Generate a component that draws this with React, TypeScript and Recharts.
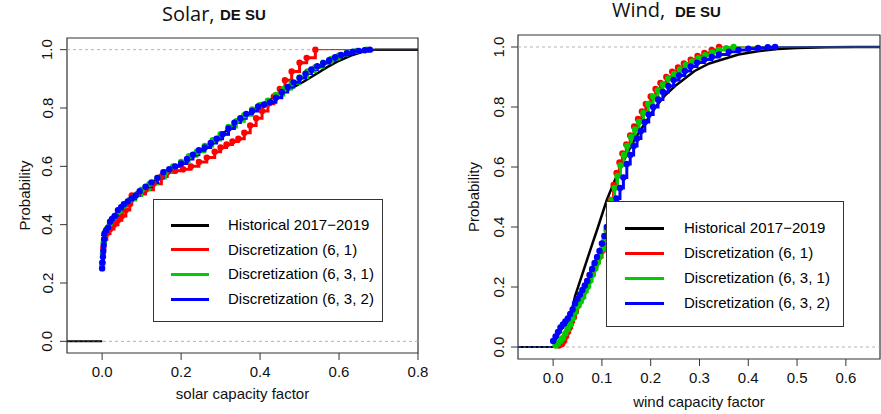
import { LineChart, Line, XAxis, YAxis, ReferenceLine, ReferenceArea, Legend } from 'recharts';

type Pt = [number, number];

const seriesNames = [
  'Historical 2017\u22122019',
  'Discretization (6, 1)',
  'Discretization (6, 3, 1)',
  'Discretization (6, 3, 2)',
];
const seriesColors = ['#000000', '#ff0000', '#00cd00', '#0000ff'];

const probTicks = [0, 0.2, 0.4, 0.6, 0.8, 1];
const solarXTicks = [0, 0.2, 0.4, 0.6, 0.8];
const windXTicks = [0, 0.1, 0.2, 0.3, 0.4, 0.5, 0.6];

// solar capacity factor vs cumulative probability
const solarHistorical: Pt[] = [
  [0, 0.36], [0.005, 0.38], [0.015, 0.4], [0.03, 0.43], [0.05, 0.465], [0.07, 0.49], [0.09, 0.51],
  [0.12, 0.54], [0.15, 0.565], [0.18, 0.59], [0.21, 0.615], [0.24, 0.645], [0.27, 0.675], [0.3, 0.705],
  [0.33, 0.74], [0.36, 0.77], [0.39, 0.8], [0.42, 0.825], [0.45, 0.848], [0.48, 0.868], [0.51, 0.89],
  [0.54, 0.915], [0.57, 0.94], [0.6, 0.962], [0.63, 0.98], [0.66, 0.993], [0.69, 1.0],
];
const solarDisc61: Pt[] = [
  [0, 0.27], [0.003, 0.32], [0.006, 0.35], [0.012, 0.37], [0.02, 0.385], [0.03, 0.4], [0.04, 0.415],
  [0.05, 0.43], [0.06, 0.45], [0.07, 0.47], [0.075, 0.5], [0.09, 0.505], [0.11, 0.52], [0.13, 0.54],
  [0.15, 0.565], [0.165, 0.58], [0.185, 0.585], [0.205, 0.59], [0.225, 0.6], [0.245, 0.615], [0.265, 0.63],
  [0.285, 0.65], [0.3, 0.665], [0.315, 0.675], [0.33, 0.685], [0.345, 0.695], [0.36, 0.715], [0.375, 0.74],
  [0.39, 0.765], [0.405, 0.79], [0.42, 0.815], [0.435, 0.84], [0.45, 0.865], [0.463, 0.895], [0.48, 0.925],
  [0.5, 0.955], [0.518, 0.972], [0.54, 1.0],
];
const solarDisc631: Pt[] = [
  [0, 0.26], [0.002, 0.3], [0.004, 0.34], [0.007, 0.37], [0.012, 0.385], [0.02, 0.405], [0.03, 0.425],
  [0.042, 0.445], [0.055, 0.465], [0.07, 0.485], [0.085, 0.5], [0.1, 0.52], [0.12, 0.54], [0.14, 0.56],
  [0.16, 0.58], [0.18, 0.6], [0.2, 0.615], [0.22, 0.635], [0.24, 0.65], [0.26, 0.67], [0.28, 0.69],
  [0.3, 0.71], [0.32, 0.735], [0.34, 0.755], [0.36, 0.775], [0.38, 0.795], [0.4, 0.81], [0.42, 0.825],
  [0.44, 0.845], [0.46, 0.865], [0.48, 0.885], [0.5, 0.905], [0.52, 0.925], [0.54, 0.94], [0.56, 0.955],
  [0.58, 0.968], [0.6, 0.98], [0.62, 0.99], [0.645, 0.996], [0.67, 1.0],
];
const solarDisc632: Pt[] = [
  [0, 0.25], [0.001, 0.27], [0.002, 0.29], [0.003, 0.31], [0.004, 0.33], [0.005, 0.35], [0.006, 0.37],
  [0.01, 0.38], [0.015, 0.39], [0.02, 0.41], [0.025, 0.42], [0.032, 0.43], [0.04, 0.45], [0.048, 0.46],
  [0.055, 0.47], [0.065, 0.48], [0.075, 0.49], [0.085, 0.5], [0.095, 0.515], [0.11, 0.53], [0.125, 0.545],
  [0.14, 0.56], [0.155, 0.58], [0.17, 0.59], [0.185, 0.6], [0.2, 0.61], [0.215, 0.625], [0.23, 0.64],
  [0.245, 0.655], [0.26, 0.665], [0.275, 0.68], [0.29, 0.695], [0.305, 0.71], [0.32, 0.73], [0.335, 0.75],
  [0.35, 0.765], [0.365, 0.78], [0.38, 0.79], [0.395, 0.805], [0.41, 0.812], [0.425, 0.82], [0.44, 0.835],
  [0.455, 0.855], [0.47, 0.872], [0.485, 0.888], [0.5, 0.903], [0.515, 0.918], [0.53, 0.932], [0.545, 0.943],
  [0.56, 0.954], [0.575, 0.964], [0.59, 0.974], [0.605, 0.982], [0.62, 0.988], [0.635, 0.993], [0.65, 0.996],
  [0.665, 0.998], [0.678, 1.0],
];

// wind capacity factor vs cumulative probability
const windHistorical: Pt[] = [
  [0.005, 0], [0.015, 0.02], [0.025, 0.05], [0.035, 0.1], [0.045, 0.17], [0.06, 0.244], [0.07, 0.293],
  [0.08, 0.342], [0.09, 0.39], [0.1, 0.44], [0.11, 0.49], [0.125, 0.55], [0.14, 0.605],
  [0.155, 0.655], [0.17, 0.7], [0.19, 0.75], [0.21, 0.8], [0.23, 0.84], [0.25, 0.87], [0.27, 0.895],
  [0.29, 0.92], [0.32, 0.945], [0.35, 0.96], [0.38, 0.975], [0.42, 0.986], [0.46, 0.993], [0.5, 0.997],
  [0.56, 0.999], [0.62, 1.0],
];
const windDisc61: Pt[] = [
  [0.012, 0.005], [0.018, 0.01], [0.022, 0.02], [0.026, 0.035], [0.03, 0.05], [0.034, 0.065], [0.038, 0.085],
  [0.042, 0.1], [0.046, 0.12], [0.05, 0.14], [0.055, 0.16], [0.06, 0.18], [0.065, 0.2], [0.07, 0.22],
  [0.075, 0.24], [0.08, 0.255], [0.085, 0.27], [0.09, 0.285], [0.095, 0.3], [0.1, 0.32], [0.105, 0.35],
  [0.11, 0.39], [0.114, 0.44], [0.118, 0.49], [0.124, 0.54], [0.13, 0.58], [0.136, 0.615], [0.142, 0.645],
  [0.15, 0.675], [0.158, 0.705], [0.166, 0.735], [0.174, 0.76], [0.182, 0.785], [0.19, 0.81], [0.2, 0.835],
  [0.21, 0.86], [0.22, 0.88], [0.232, 0.9], [0.244, 0.918], [0.256, 0.932], [0.268, 0.945], [0.282, 0.958],
  [0.296, 0.97], [0.31, 0.98], [0.325, 0.99], [0.34, 1.0],
];
const windDisc631: Pt[] = [
  [0.005, 0.005], [0.01, 0.012], [0.015, 0.02], [0.02, 0.03], [0.025, 0.045], [0.03, 0.06], [0.035, 0.075],
  [0.04, 0.095], [0.045, 0.115], [0.05, 0.135], [0.055, 0.15], [0.06, 0.165], [0.065, 0.185], [0.07, 0.2],
  [0.075, 0.22], [0.08, 0.24], [0.085, 0.26], [0.09, 0.28], [0.095, 0.3], [0.1, 0.325], [0.105, 0.355],
  [0.11, 0.39], [0.115, 0.44], [0.12, 0.49], [0.126, 0.53], [0.132, 0.57], [0.138, 0.605], [0.145, 0.64],
  [0.152, 0.67], [0.16, 0.7], [0.168, 0.725], [0.176, 0.75], [0.185, 0.78], [0.195, 0.81], [0.205, 0.835],
  [0.215, 0.855], [0.225, 0.875], [0.236, 0.895], [0.248, 0.91], [0.26, 0.925], [0.272, 0.94], [0.285, 0.952],
  [0.298, 0.963], [0.312, 0.973], [0.326, 0.982], [0.34, 0.99], [0.355, 0.996], [0.37, 1.0],
];
const windDisc632: Pt[] = [
  [0, 0.02], [0.005, 0.035], [0.01, 0.05], [0.015, 0.065], [0.02, 0.075], [0.025, 0.085], [0.03, 0.095],
  [0.035, 0.11], [0.04, 0.125], [0.045, 0.145], [0.05, 0.16], [0.055, 0.175], [0.06, 0.19], [0.065, 0.205],
  [0.07, 0.22], [0.075, 0.24], [0.08, 0.26], [0.085, 0.28], [0.09, 0.3], [0.095, 0.32], [0.1, 0.345],
  [0.105, 0.37], [0.11, 0.4], [0.115, 0.43], [0.12, 0.455], [0.125, 0.475], [0.13, 0.495], [0.137, 0.53],
  [0.144, 0.565], [0.151, 0.61], [0.158, 0.64], [0.165, 0.67], [0.172, 0.695], [0.18, 0.72], [0.188, 0.75],
  [0.196, 0.775], [0.205, 0.8], [0.215, 0.825], [0.225, 0.85], [0.236, 0.87], [0.247, 0.89], [0.258, 0.905],
  [0.27, 0.92], [0.282, 0.935], [0.295, 0.948], [0.31, 0.958], [0.325, 0.967], [0.34, 0.975], [0.36, 0.984],
  [0.38, 0.99], [0.4, 0.994], [0.42, 0.997], [0.44, 0.999], [0.455, 1.0],
];

const FONT = '"Liberation Sans", Arial, sans-serif';
const AXIS = '#333';

const toRows = (pts: Pt[]) => pts.map(([x, p]) => ({ x, p }));

interface LegendLayout {
  left: number;
  top: number;
  w: number;
  h: number;
  rowStart: number;
  rowGap: number;
  lineX: number;
  lineW: number;
  textX: number;
}

function LegendBox({ lay }: { lay: LegendLayout }) {
  return (
    <div
      style={{
        width: lay.w,
        height: lay.h,
        border: `1px solid ${AXIS}`,
        boxSizing: 'border-box',
        background: '#fff',
        position: 'relative',
        fontFamily: FONT,
        fontSize: 15,
        color: '#000',
      }}
    >
      {seriesNames.map((n, i) => (
        <div key={n}>
          <div
            style={{
              position: 'absolute',
              left: lay.lineX,
              top: lay.rowStart + i * lay.rowGap - 1.5,
              width: lay.lineW,
              height: 3,
              background: seriesColors[i],
            }}
          />
          <div
            style={{
              position: 'absolute',
              left: lay.textX,
              top: lay.rowStart + i * lay.rowGap - 9,
              lineHeight: '18px',
              whiteSpace: 'nowrap',
            }}
          >
            {n}
          </div>
        </div>
      ))}
    </div>
  );
}

interface PanelProps {
  hist: Pt[];
  disc: Pt[][];
  xDomain: [number, number];
  xTicks: number[];
  pageLeft: number;
  width: number;
  top: number;
  right: number;
  yAxisWidth: number;
  xAxisHeight: number;
  legend: LegendLayout;
}

function Panel({ hist, disc, xDomain, xTicks, pageLeft, width, top, right, yAxisWidth, xAxisHeight, legend }: PanelProps) {
  const all = [hist, ...disc];
  const lines = all.flatMap((pts, i) => {
    const color = seriesColors[i];
    const first = pts[0];
    const last = pts[pts.length - 1];
    const isHist = i === 0;
    return [
      <Line
        key={`l${i}`}
        data={[{ x: xDomain[0], p: 0 }, { x: first[0], p: 0 }]}
        dataKey="p"
        type="linear"
        stroke={color}
        strokeWidth={isHist ? 2 : 1}
        strokeDasharray={isHist ? undefined : '3 2'}
        dot={false}
        activeDot={false}
        legendType="none"
        isAnimationActive={false}
      />,
      <Line
        key={`r${i}`}
        data={[{ x: last[0], p: last[1] }, { x: xDomain[1], p: last[1] }]}
        dataKey="p"
        type="linear"
        stroke={color}
        strokeWidth={isHist ? 2.5 : 1}
        dot={false}
        activeDot={false}
        legendType="none"
        isAnimationActive={false}
      />,
      <Line
        key={`m${i}`}
        data={toRows(pts)}
        dataKey="p"
        name={seriesNames[i]}
        type={isHist ? 'linear' : 'stepAfter'}
        stroke={color}
        strokeWidth={isHist ? 2.5 : 3}
        dot={isHist ? false : { r: 3.2, fill: color, stroke: 'none' }}
        activeDot={false}
        isAnimationActive={false}
      />,
    ];
  });

  return (
    <div style={{ position: 'absolute', left: pageLeft, top: 0 }}>
      <LineChart width={width} height={414} margin={{ top, right, bottom: 0, left: 0 }}>
        <XAxis
          dataKey="x"
          type="number"
          domain={xDomain}
          ticks={xTicks}
          allowDataOverflow
          axisLine={false}
          tickSize={7}
          tickMargin={0}
          height={xAxisHeight}
          tickLine={{ stroke: AXIS }}
          interval={0}
          tick={(p: any) => (
            <text x={p.x} y={p.y} dy={17} textAnchor="middle" fontFamily={FONT} fontSize={15} fill="#111">
              {Number(p.payload.value).toFixed(1)}
            </text>
          )}
        />
        <YAxis
          type="number"
          domain={[-0.04, 1.04]}
          ticks={probTicks}
          allowDataOverflow
          axisLine={false}
          tickSize={7}
          tickMargin={0}
          width={yAxisWidth}
          tickLine={{ stroke: AXIS }}
          interval={0}
          tick={(p: any) => {
            const tx = p.x - 7.5;
            return (
              <text
                x={tx}
                y={p.y}
                transform={`rotate(-90 ${tx} ${p.y})`}
                textAnchor="middle"
                fontFamily={FONT}
                fontSize={15}
                fill="#111"
              >
                {Number(p.payload.value).toFixed(1)}
              </text>
            );
          }}
        />
        <ReferenceArea
          x1={xDomain[0]}
          x2={xDomain[1]}
          y1={-0.04}
          y2={1.04}
          fill="none"
          stroke={AXIS}
          strokeWidth={1.2}
          ifOverflow="visible"
        />
        <ReferenceLine y={0} stroke="#b3b3b3" strokeDasharray="3 3" />
        <ReferenceLine y={1} stroke="#b3b3b3" strokeDasharray="3 3" />
        {lines}
        <Legend
          layout="vertical"
          align="center"
          verticalAlign="middle"
          wrapperStyle={{ position: 'absolute', left: legend.left, top: legend.top, width: legend.w, height: legend.h }}
          content={() => <LegendBox lay={legend} />}
        />
      </LineChart>
    </div>
  );
}

export default function App() {
  const titleFont = '"Open Sans", "Noto Sans", sans-serif';
  return (
    <div style={{ position: 'absolute', left: 0, top: 0, width: 881, height: 414, background: '#fff', overflow: 'hidden' }}>
      <Panel
        hist={solarHistorical}
        disc={[solarDisc61, solarDisc631, solarDisc632]}
        xDomain={[-0.089, 0.8]}
        xTicks={solarXTicks}
        pageLeft={0}
        width={440}
        top={38}
        right={22}
        yAxisWidth={67}
        xAxisHeight={61}
        legend={{ left: 153, top: 199, w: 230, h: 123, rowStart: 25, rowGap: 24.7, lineX: 17, lineW: 38, textX: 74 }}
      />
      <Panel
        hist={windHistorical}
        disc={[windDisc61, windDisc631, windDisc632]}
        xDomain={[-0.072, 0.67]}
        xTicks={windXTicks}
        pageLeft={440}
        width={441}
        top={35}
        right={1}
        yAxisWidth={78}
        xAxisHeight={55}
        legend={{ left: 166, top: 201, w: 238, h: 126, rowStart: 26, rowGap: 25, lineX: 18, lineW: 39, textX: 77 }}
      />
      <svg width={881} height={414} style={{ position: 'absolute', left: 0, top: 0, pointerEvents: 'none' }}>
        <text x={162} y={21} fontFamily={titleFont} fontSize={20} fill="#111">Solar,</text>
        <text x={220} y={20} fontFamily={FONT} fontSize={15} fontWeight="bold" fill="#111">DE SU</text>
        <text x={612} y={17} fontFamily={titleFont} fontSize={20} fill="#111">Wind,</text>
        <text x={675} y={17} fontFamily={FONT} fontSize={15} fontWeight="bold" fill="#111">DE SU</text>
        <text x={30} y={195.5} transform="rotate(-90 30 195.5)" textAnchor="middle" fontFamily={FONT} fontSize={15} fill="#111">
          Probability
        </text>
        <text x={479} y={197} transform="rotate(-90 479 197)" textAnchor="middle" fontFamily={FONT} fontSize={15} fill="#111">
          Probability
        </text>
        <text x={242.5} y={399} textAnchor="middle" fontFamily={FONT} fontSize={15} fill="#111">
          solar capacity factor
        </text>
        <text x={699} y={407} textAnchor="middle" fontFamily={FONT} fontSize={15} fill="#111">
          wind capacity factor
        </text>
      </svg>
    </div>
  );
}
